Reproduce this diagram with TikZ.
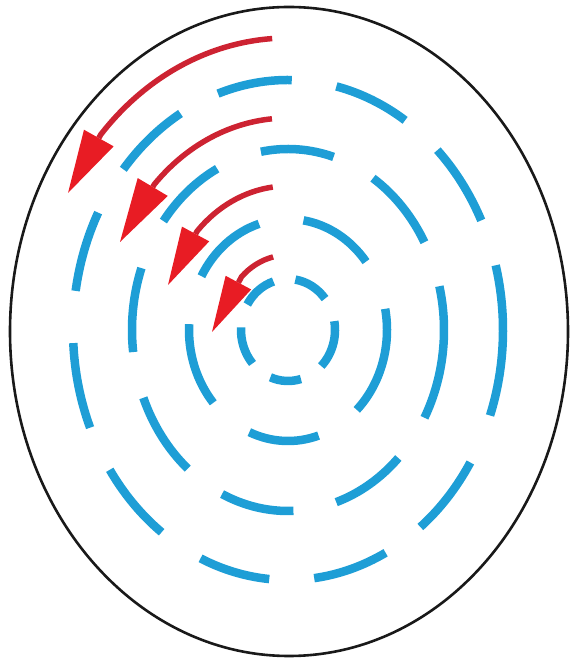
\documentclass[tikz,border=0pt]{standalone}
\usepackage{tikz}
\usetikzlibrary{arrows.meta}
\usepackage{xcolor}
\definecolor{ringblue}{RGB}{30,158,214}
\definecolor{flowred}{RGB}{205,35,50}
\definecolor{tipred}{RGB}{232,28,36}

\begin{document}
\begin{tikzpicture}[x=1pt, y=1pt,
    rim/.style={draw=black!90, line width=2.6pt},
    ring/.style={ringblue, line width=8.5pt},
    flow/.style={flowred, line width=5.5pt}]
    \useasboundingbox (0,0) rectangle (570,661);
    \coordinate (c) at (288,331);
    \draw[rim] (289,329.5) ellipse [x radius=279pt, y radius=324.5pt];
    \foreach \a/\b in {-45/10, 38/81, 108/150, 177/221, 248/286}
      \draw[ring] (c) ++(\a:47pt and 51pt) arc[start angle=\a, end angle=\b, x radius=47pt, y radius=51pt];
    \foreach \a/\b in {-46/11, 38/81, 107/151, 177/221, 247/288}
      \draw[ring] (c) ++(\a:99pt and 111pt) arc[start angle=\a, end angle=\b, x radius=99pt, y radius=111pt];
    \foreach \a/\b in {-72/-45, -29/14, 29/57, 73/100, 117/143, 160/187, 202/230, 245/272}
      \draw[ring] (c) ++(\a:156pt and 181pt) arc[start angle=\a, end angle=\b, x radius=156pt, y radius=181pt];
    \foreach \a/\b in {-83/-63, -52/-32, -20/15, 26/46, 57/77, 89/109, 120/140, 152/171, 183/203, 214/234, 246/265}
      \draw[ring] (c) ++(\a:215pt and 250pt) arc[start angle=\a, end angle=\b, x radius=215pt, y radius=250pt];
    \coordinate (tipa) at (68,468);
    \coordinate (tipb) at (120,419);
    \coordinate (tipc) at (168,376);
    \coordinate (tipd) at (212,329);
    \draw[flow, -{Triangle[length=63pt, width=34pt, color=tipred, line width=0pt]}]
      (c) ++(93.6:252pt and 292pt) arc[start angle=93.6, end angle=138, x radius=252pt, y radius=292pt] -- (tipa);
    \draw[flow, -{Triangle[length=64pt, width=35pt, color=tipred, line width=0pt]}]
      (c) ++(95:184pt and 212pt) arc[start angle=95, end angle=136.6, x radius=184pt, y radius=212pt] -- (tipb);
    \draw[flow, -{Triangle[length=58pt, width=31pt, color=tipred, line width=0pt]}]
      (c) ++(97:125pt and 144pt) arc[start angle=97, end angle=136.6, x radius=125pt, y radius=144pt] -- (tipc);
    \draw[flow, -{Triangle[length=56pt, width=29pt, color=tipred, line width=0pt]}]
      (c) ++(103:66pt and 75pt) arc[start angle=103, end angle=134.7, x radius=66pt, y radius=75pt] -- (tipd);
\end{tikzpicture}
\end{document}
